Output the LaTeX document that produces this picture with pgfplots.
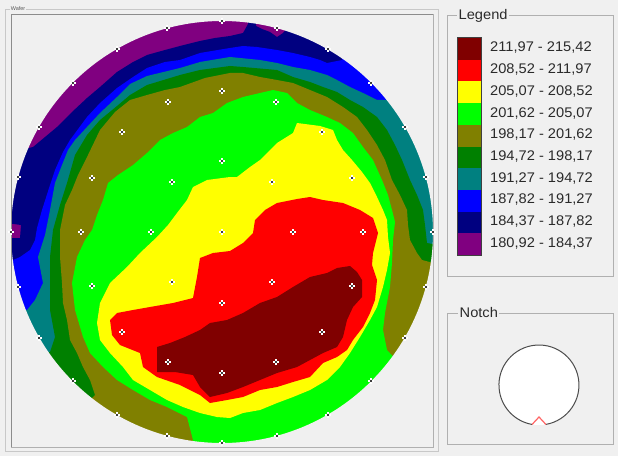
\documentclass[border=0pt]{standalone}
\usepackage{pgfplots}
\pgfplotsset{compat=1.18}
\usepackage{fontspec}
\setmainfont{Liberation Sans}
\newfontfamily\lfont[FakeStretch=1.05]{Liberation Sans}
\definecolor{bg}{HTML}{F0F0F0}
\definecolor{cDR}{HTML}{800000}
\definecolor{cR}{HTML}{FF0000}
\definecolor{cY}{HTML}{FFFF00}
\definecolor{cG}{HTML}{00FF00}
\definecolor{cOl}{HTML}{808000}
\definecolor{cDG}{HTML}{008000}
\definecolor{cTe}{HTML}{008080}
\definecolor{cBl}{HTML}{0000FF}
\definecolor{cNv}{HTML}{000080}
\definecolor{cPu}{HTML}{800080}
\definecolor{txt}{HTML}{2A2A2A}
\definecolor{frm}{HTML}{B0B0B0}
\begin{document}
\begin{tikzpicture}
\begin{axis}[width=618bp,height=456bp,scale only axis,xmin=0,xmax=618,ymin=0,ymax=456,
  y dir=reverse,hide axis,clip=true]
\fill[bg] (axis cs:0,0) rectangle (axis cs:618,456);
% level >= 180.92 (purple)
\addplot[fill=cPu,draw=none] coordinates {(0,0) (445,0) (445,456) (0,456)};
% level >= 184.37 (navy)
\addplot[fill=cNv,draw=none] coordinates {(0,150) (20,150) (33,147) (45,137) (57,127) (72,112) (87,98) (100,87) (117,72) (133,62) (147,55) (165,50) (180,46) (200,41) (215,38) (230,36) (243,33) (248,24) (250,5) (256,5) (256,26) (262,29) (270,32) (277,37) (283,33) (288,27) (292,5) (445,5) (445,456) (0,456) (0,238) (20,238) (21,225) (0,222)};
% level >= 187.82 (blue)
\addplot[fill=cBl,draw=none] coordinates {(0,262) (13,260) (20,257) (30,250) (35,240) (37,228) (42,210) (50,185) (55,170) (63,152) (70,140) (87,117) (100,103) (117,88) (133,77) (147,68) (165,62) (180,60) (200,53) (230,48) (243,46) (257,47) (277,50) (293,53) (310,57) (320,60) (327,63) (342,60) (350,5) (445,5) (445,456) (0,456)};
% level >= 191.27 (teal)
\addplot[fill=cTe,draw=none] coordinates {(0,312) (27,310) (35,300) (43,283) (38,257) (45,235) (47,225) (50,210) (55,183) (62,165) (68,150) (75,140) (87,127) (100,113) (117,97) (130,84) (147,76) (180,68) (200,62) (230,57) (260,60) (277,63) (293,67) (310,70) (327,75) (337,80) (350,87) (363,93) (377,100) (390,100) (400,5) (445,5) (445,456) (0,456)};
% level >= 194.72 (dark green)
\addplot[fill=cDG,draw=none] coordinates {(0,354) (50,352) (55,337) (50,310) (50,283) (50,257) (53,230) (60,205) (67,183) (75,155) (87,135) (100,120) (117,106) (130,95) (147,85) (180,75) (200,70) (230,66) (243,67) (277,70) (293,77) (310,82) (323,87) (337,92) (350,100) (363,107) (377,117) (387,130) (395,145) (402,160) (410,180) (417,195) (423,210) (425,225) (427,243) (445,246) (445,456) (0,456)};
% level >= 198.17 (olive)
\addplot[fill=cOl,draw=none] coordinates {(90,456) (88,402) (95,395) (90,380) (83,367) (77,353) (70,340) (67,320) (63,303) (62,283) (60,257) (60,230) (65,205) (72,190) (78,175) (88,155) (100,130) (115,112) (130,100) (147,95) (165,90) (180,87) (205,78) (230,73) (243,73) (260,77) (277,80) (293,83) (310,90) (327,97) (343,107) (357,117) (367,130) (377,145) (385,160) (392,180) (400,195) (407,210) (408,225) (410,240) (417,253) (422,260) (445,266) (445,456)};
% level >= 201.62 (green)
\addplot[fill=cG,draw=none] coordinates {(92,230) (97,215) (103,200) (108,183) (118,175) (133,165) (147,153) (160,140) (173,133) (187,127) (200,117) (213,113) (227,103) (243,97) (260,93) (273,90) (287,93) (297,103) (310,110) (327,117) (340,123) (353,133) (363,147) (373,160) (382,180) (388,195) (392,210) (395,222) (393,240) (392,263) (390,287) (385,313) (383,330) (387,350) (398,362) (445,456) (190,456) (193,440) (187,417) (167,407) (150,400) (133,390) (117,380) (103,367) (90,353) (83,337) (75,310) (72,283) (77,257) (85,240)};
% level >= 205.07 (yellow)
\addplot[fill=cY,draw=none] coordinates {(230,177) (207,180) (193,187) (187,200) (177,213) (168,225) (157,237) (140,253) (127,267) (110,283) (100,303) (97,323) (100,340) (110,353) (123,367) (133,380) (150,390) (167,400) (183,407) (200,413) (217,417) (230,418) (243,413) (260,410) (277,403) (293,397) (310,390) (327,380) (340,367) (350,353) (360,337) (370,320) (377,307) (383,287) (387,270) (390,253) (388,237) (387,220) (383,210) (377,197) (370,183) (362,172) (352,160) (343,150) (337,140) (333,130) (320,126) (297,123) (293,133) (277,143) (260,160) (250,167) (237,177)};
% level >= 208.52 (red)
\addplot[fill=cR,draw=none] coordinates {(110,320) (117,313) (133,310) (150,307) (173,303) (193,298) (197,277) (200,258) (213,253) (230,251) (243,243) (253,233) (255,220) (265,210) (277,203) (297,199) (310,197) (323,200) (343,203) (360,210) (373,218) (378,233) (373,253) (372,265) (377,280) (375,300) (370,313) (363,327) (353,340) (347,350) (337,357) (323,363) (310,377) (293,382) (277,387) (260,390) (243,397) (227,400) (210,403) (200,395) (180,385) (157,377) (143,367) (140,353) (120,345) (112,335)};
% level >= 211.97 (dark red)
\addplot[fill=cDR,draw=none] coordinates {(157,347) (170,343) (185,337) (200,330) (210,323) (227,320) (243,313) (260,303) (277,297) (293,287) (310,277) (327,273) (337,268) (350,266) (357,272) (362,280) (362,297) (353,307) (347,320) (343,337) (337,347) (323,353) (310,360) (297,367) (277,373) (260,380) (243,387) (227,393) (210,397) (200,387) (193,375) (175,372) (157,372)};
% wafer mask
\fill[bg,even odd rule] (axis cs:0,0) rectangle (axis cs:618,456) (axis cs:222,232) circle[radius=211bp];
% wafer group box
\draw[color=frm!70,line width=0.8bp] (axis cs:5.5,9) rectangle (axis cs:438,451.5);
\draw[color=frm,line width=1bp] (axis cs:11,15) rectangle (axis cs:433,447);
\draw[color=black!45,line width=1bp] (axis cs:11,447) -- (axis cs:11,15) -- (axis cs:433,15);
\node[fill=bg,inner sep=0.6bp,anchor=west,text=black!65,font=\fontsize{5.5}{6}\selectfont] at (axis cs:10,9) {Wafer};
% sites
\addplot[only marks,mark=+,mark size=3bp,draw=white,line width=1.5bp] coordinates {
(222,232) (293,232) (272,182) (222,161) (172,182) (151,232) (172,282) (222,303) (272,282)
(363,232) (352,178) (322,132) (276,102) (222,91) (168,102) (122,132) (92,178) (81,232) (92,286) (122,332) (168,362) (222,373) (276,362) (322,332) (352,286)
(433,232) (426,177) (405,127) (371,83) (328,49) (277,28) (222,21) (167,28) (117,49) (73,83) (39,127) (18,177) (11,232) (18,287) (39,338) (73,381) (117,415) (167,436) (222,443) (277,436) (328,415) (371,381) (405,338) (426,287)};
\addplot[only marks,mark=*,mark size=0.9bp,draw=none,fill=black!65] coordinates {
(222,232) (293,232) (272,182) (222,161) (172,182) (151,232) (172,282) (222,303) (272,282)
(363,232) (352,178) (322,132) (276,102) (222,91) (168,102) (122,132) (92,178) (81,232) (92,286) (122,332) (168,362) (222,373) (276,362) (322,332) (352,286)
(433,232) (426,177) (405,127) (371,83) (328,49) (277,28) (222,21) (167,28) (117,49) (73,83) (39,127) (18,177) (11,232) (18,287) (39,338) (73,381) (117,415) (167,436) (222,443) (277,436) (328,415) (371,381) (405,338) (426,287)};
% legend box
\draw[color=frm,line width=1bp] (axis cs:447,16) rectangle (axis cs:613,276);
\node[fill=bg,inner sep=1.5bp,anchor=west,text=txt,font=\lfont\fontsize{14}{15}\selectfont] at (axis cs:457,16) {Legend};
\fill[cDR] (axis cs:457,38) rectangle (axis cs:481,59.7);
\fill[cR] (axis cs:457,59.7) rectangle (axis cs:481,81.4);
\fill[cY] (axis cs:457,81.4) rectangle (axis cs:481,103.1);
\fill[cG] (axis cs:457,103.1) rectangle (axis cs:481,124.8);
\fill[cOl] (axis cs:457,124.8) rectangle (axis cs:481,146.5);
\fill[cDG] (axis cs:457,146.5) rectangle (axis cs:481,168.2);
\fill[cTe] (axis cs:457,168.2) rectangle (axis cs:481,189.9);
\fill[cBl] (axis cs:457,189.9) rectangle (axis cs:481,211.6);
\fill[cNv] (axis cs:457,211.6) rectangle (axis cs:481,233.3);
\fill[cPu] (axis cs:457,233.3) rectangle (axis cs:481,255);
\draw[color=black!75,line width=1bp] (axis cs:457,38) rectangle (axis cs:481,255);
\begin{scope}[every node/.style={anchor=west,text=txt,inner sep=0pt,font=\lfont\fontsize{14}{15}\selectfont}]
\node at (axis cs:490,48) {211,97 - 215,42};
\node at (axis cs:490,69.7) {208,52 - 211,97};
\node at (axis cs:490,91.4) {205,07 - 208,52};
\node at (axis cs:490,113.1) {201,62 - 205,07};
\node at (axis cs:490,134.8) {198,17 - 201,62};
\node at (axis cs:490,156.5) {194,72 - 198,17};
\node at (axis cs:490,178.2) {191,27 - 194,72};
\node at (axis cs:490,199.9) {187,82 - 191,27};
\node at (axis cs:490,221.6) {184,37 - 187,82};
\node at (axis cs:490,243.3) {180,92 - 184,37};
\end{scope}
% notch box
\draw[color=frm,line width=1bp] (axis cs:447,313) rectangle (axis cs:613,444);
\node[fill=bg,inner sep=1.5bp,anchor=west,text=txt,font=\lfont\fontsize{14}{15}\selectfont] at (axis cs:458,313) {Notch};
\fill[white] (axis cs:539,385) circle[radius=40bp];
\draw[color=black!70,line width=1bp] (axis cs:545.9,424.4) arc[start angle=-80,end angle=260,radius=40bp];
\draw[color=red!60,line width=1.2bp] (axis cs:532.1,424.4) -- (axis cs:539,417) -- (axis cs:545.9,424.4);
\end{axis}
\end{tikzpicture}
\end{document}
